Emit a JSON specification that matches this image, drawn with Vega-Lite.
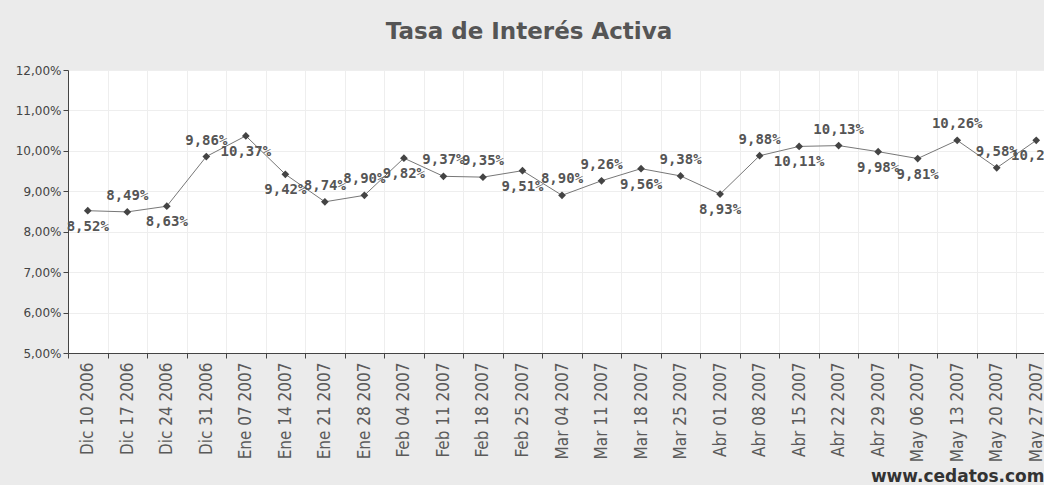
{
  "$schema": "https://vega.github.io/schema/vega-lite/v6.json",
  "width": 976,
  "height": 283,
  "autosize": {"type": "none"},
  "padding": {"left": 68, "top": 70, "right": 0, "bottom": 132},
  "background": "#ebebeb",
  "config": {
    "view": {"fill": "#ffffff", "stroke": null},
    "locale": {"number": {"decimal": ",", "thousands": ".", "grouping": [3], "currency": ["", " €"]}}
  },
  "title": {
    "text": "Tasa de Interés Activa",
    "font": "DejaVu Sans",
    "fontSize": 23,
    "fontWeight": "bold",
    "color": "#555555",
    "anchor": "middle",
    "frame": "group",
    "dx": -27,
    "baseline": "alphabetic",
    "offset": 2
  },
  "data": {
    "values": [
      {"fecha": "Dic 10 2006", "tasa": 0.0852},
      {"fecha": "Dic 17 2006", "tasa": 0.0849},
      {"fecha": "Dic 24 2006", "tasa": 0.0863},
      {"fecha": "Dic 31 2006", "tasa": 0.0986},
      {"fecha": "Ene 07 2007", "tasa": 0.1037},
      {"fecha": "Ene 14 2007", "tasa": 0.0942},
      {"fecha": "Ene 21 2007", "tasa": 0.0874},
      {"fecha": "Ene 28 2007", "tasa": 0.0890},
      {"fecha": "Feb 04 2007", "tasa": 0.0982},
      {"fecha": "Feb 11 2007", "tasa": 0.0937},
      {"fecha": "Feb 18 2007", "tasa": 0.0935},
      {"fecha": "Feb 25 2007", "tasa": 0.0951},
      {"fecha": "Mar 04 2007", "tasa": 0.0890},
      {"fecha": "Mar 11 2007", "tasa": 0.0926},
      {"fecha": "Mar 18 2007", "tasa": 0.0956},
      {"fecha": "Mar 25 2007", "tasa": 0.0938},
      {"fecha": "Abr 01 2007", "tasa": 0.0893},
      {"fecha": "Abr 08 2007", "tasa": 0.0988},
      {"fecha": "Abr 15 2007", "tasa": 0.1011},
      {"fecha": "Abr 22 2007", "tasa": 0.1013},
      {"fecha": "Abr 29 2007", "tasa": 0.0998},
      {"fecha": "May 06 2007", "tasa": 0.0981},
      {"fecha": "May 13 2007", "tasa": 0.1026},
      {"fecha": "May 20 2007", "tasa": 0.0958},
      {"fecha": "May 27 2007", "tasa": 0.1026}
    ]
  },
  "encoding": {
    "x": {
      "field": "fecha",
      "type": "ordinal",
      "sort": null,
      "bandPosition": 0.5,
      "scale": {"type": "band", "range": [0, 988], "paddingInner": 0, "paddingOuter": 0},
      "axis": {
        "title": "www.cedatos.com",
        "titleX": 976,
        "titleY": 128,
        "titleAlign": "right",
        "titleAnchor": "end",
        "titleBaseline": "alphabetic",
        "titleFont": "DejaVu Sans",
        "titleFontSize": 17,
        "titleFontWeight": "bold",
        "titleColor": "#333333",
        "labelAngle": -90,
        "labelAlign": "right",
        "labelBaseline": "middle",
        "labelFont": "DejaVu Sans Condensed, Liberation Sans",
        "labelFontSize": 17,
        "labelColor": "#5a5a5a",
        "labelPadding": 4,
        "labelOverlap": false,
        "labelLimit": 0,
        "tickBand": "extent",
        "tickColor": "#444444",
        "tickSize": 5,
        "domainColor": "#444444",
        "grid": true,
        "gridColor": "#eeeeee"
      }
    },
    "y": {
      "field": "tasa",
      "type": "quantitative",
      "scale": {"domain": [0.05, 0.12], "nice": false, "zero": false},
      "axis": {
        "title": null,
        "values": [0.05, 0.06, 0.07, 0.08, 0.09, 0.10, 0.11, 0.12],
        "format": ".2%",
        "labelFont": "DejaVu Sans",
        "labelFontSize": 12,
        "labelColor": "#444444",
        "labelPadding": 2,
        "tickSize": 5,
        "tickColor": "#444444",
        "domainColor": "#444444",
        "gridColor": "#eeeeee"
      }
    }
  },
  "layer": [
    {"mark": {"type": "line", "color": "#777777", "strokeWidth": 1}},
    {"mark": {"type": "point", "shape": "diamond", "filled": true, "color": "#444444", "size": 60, "opacity": 1}},
    {
      "transform": [{"filter": {"not": {"field": "fecha", "oneOf": ["Dic 10 2006", "Dic 24 2006", "Ene 07 2007", "Ene 14 2007", "Feb 04 2007", "Feb 25 2007", "Mar 18 2007", "Abr 01 2007", "Abr 15 2007", "Abr 29 2007", "May 06 2007", "May 27 2007"]}}}],
      "mark": {"type": "text", "dy": -16, "font": "DejaVu Sans Mono", "fontSize": 14, "fontWeight": "bold", "color": "#555555"},
      "encoding": {"text": {"field": "tasa", "type": "quantitative", "format": ".2%"}}
    },
    {
      "transform": [{"filter": {"field": "fecha", "oneOf": ["Dic 10 2006", "Dic 24 2006", "Ene 07 2007", "Ene 14 2007", "Feb 04 2007", "Feb 25 2007", "Mar 18 2007", "Abr 01 2007", "Abr 15 2007", "Abr 29 2007", "May 06 2007", "May 27 2007"]}}],
      "mark": {"type": "text", "dy": 16, "font": "DejaVu Sans Mono", "fontSize": 14, "fontWeight": "bold", "color": "#555555"},
      "encoding": {"text": {"field": "tasa", "type": "quantitative", "format": ".2%"}}
    }
  ]
}
